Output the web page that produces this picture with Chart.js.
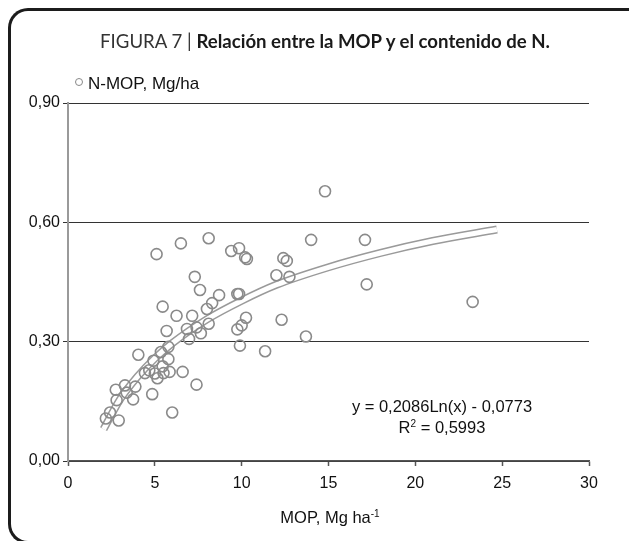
<!DOCTYPE html>
<html>
<head>
<meta charset="utf-8">
<script src="https://cdn.jsdelivr.net/npm/chart.js@4.4.1/dist/chart.umd.min.js"></script>
<style>
    html, body { margin: 0; padding: 0; background: #fff; overflow: hidden; }
    #wrap { position: relative; width: 629px; height: 541px; overflow: hidden; }
    #frame {
        position: absolute; left: 8px; top: 8px; width: 640px; height: 530px;
        border: 3px solid #1c1c1c; border-right: none; border-radius: 20px 0 0 20px;
    }
    canvas { position: absolute; left: 0; top: 0; }
    .txt { position: absolute; white-space: nowrap; color: #111; font-family: "Liberation Sans", Arial, sans-serif; }
    #title { left: 0; width: 650px; top: 30px; text-align: center; font-family: Lato, "Open Sans", sans-serif; font-size: 18.6px; color: #333; }
    #title b { color: #1a1a1a; }
    #legend { left: 75px; top: 74px; font-size: 17px; }
    #legend span { display: inline-block; width: 6px; height: 6px; border: 1.3px solid #888; border-radius: 50%; margin-right: 5px; vertical-align: 3px; }
    #eq { left: 342px; width: 200px; top: 396px; text-align: center; font-size: 16.5px; line-height: 21px; }
    #xtitle { left: 230px; width: 200px; top: 508px; text-align: center; font-size: 16.5px; }
    sup { font-size: 10px; vertical-align: 6px; line-height: 0; }
</style>
</head>
<body>
<div id="wrap">
    <div id="frame"></div>
    <canvas id="chart" width="629" height="541"></canvas>
    <div class="txt" id="title">FIGURA 7 | <b>Relación entre la MOP y el contenido de N.</b></div>
    <div class="txt" id="legend"><span></span>N-MOP, Mg/ha</div>
    <div class="txt" id="eq">y = 0,2086Ln(x) - 0,0773<br>R<sup>2</sup> = 0,5993</div>
    <div class="txt" id="xtitle">MOP, Mg ha<sup>-1</sup></div>
</div>
<script>
// MOP (Mg/ha) and N-MOP (Mg/ha)
const mopValues = [
    5.1, 6.5, 8.1, 9.4, 9.85, 10.2, 10.3, 12.4, 12.6, 14.0, 14.8, 17.1, 17.2, 23.3,
    7.3, 7.6, 8.7, 9.75, 9.85, 8.3, 8.0, 12.0, 12.75, 5.45, 6.25, 7.15, 10.25,
    12.3, 6.85, 7.4, 8.1, 7.65, 6.97, 5.68, 9.75, 10.0, 9.9, 11.35, 13.7,
    5.78, 5.35, 4.05, 4.92, 5.78, 5.45, 4.43, 4.68, 5.0, 5.15, 5.5, 5.85, 6.6,
    7.4, 4.85, 6.0, 2.75, 2.8, 3.38, 3.88, 3.75, 3.28, 2.42, 2.18, 2.92
];
const nValues = [
    0.52, 0.547, 0.56, 0.528, 0.535, 0.512, 0.508, 0.51, 0.503, 0.556, 0.678, 0.556, 0.444, 0.40,
    0.463, 0.43, 0.417, 0.42, 0.42, 0.397, 0.382, 0.467, 0.463, 0.388, 0.365, 0.365, 0.36,
    0.355, 0.332, 0.336, 0.345, 0.321, 0.307, 0.327, 0.331, 0.341, 0.29, 0.276, 0.313,
    0.287, 0.274, 0.267, 0.252, 0.256, 0.238, 0.221, 0.228, 0.22, 0.208, 0.221, 0.224, 0.224,
    0.192, 0.168, 0.122, 0.179, 0.153, 0.172, 0.187, 0.155, 0.19, 0.122, 0.107, 0.102
];

// Logarithmic trend line as drawn
const trendX = [2.05, 3, 4, 5, 6, 8, 10, 12, 15, 18, 21, 24.7];
const trendY = [0.08, 0.155, 0.212, 0.258, 0.296, 0.356, 0.403, 0.443, 0.487, 0.523, 0.553, 0.582];

// Tick labels
const xTickLabels = ['0', '5', '10', '15', '20', '25', '30'];
const yTickLabels = ['0,00', '0,30', '0,60', '0,90'];

const points = mopValues.map((x, i) => ({ x: x, y: nValues[i] }));
const trend = trendX.map((x, i) => ({ x: x, y: trendY[i] }));

const tickFont = { family: '"Liberation Sans", Arial, sans-serif', size: 16 };

new Chart(document.getElementById('chart'), {
    type: 'scatter',
    data: {
        datasets: [
            {
                label: 'N-MOP, Mg/ha',
                data: points,
                pointRadius: 5.5,
                pointBorderWidth: 1.6,
                pointBorderColor: '#8a8a8a',
                pointBackgroundColor: 'rgba(0,0,0,0)',
                order: 0
            },
            {
                data: trend,
                showLine: true,
                pointRadius: 0,
                borderColor: '#ffffff',
                borderWidth: 5,
                cubicInterpolationMode: 'monotone',
                order: 1
            },
            {
                data: trend,
                showLine: true,
                pointRadius: 0,
                borderColor: '#9a9a9a',
                borderWidth: 8,
                cubicInterpolationMode: 'monotone',
                order: 2
            }
        ]
    },
    options: {
        responsive: false,
        animation: false,
        layout: { padding: { left: 0, right: 40, top: 103, bottom: 0 } },
        plugins: {
            legend: { display: false },
            tooltip: { enabled: false }
        },
        scales: {
            x: {
                type: 'linear',
                min: 0,
                max: 30,
                afterFit: (scale) => { scale.height = 80; },
                ticks: {
                    stepSize: 5,
                    color: '#111',
                    font: tickFont,
                    padding: 8,
                    maxRotation: 0,
                    callback: (v) => xTickLabels[Math.round(v / 5)]
                },
                grid: {
                    drawOnChartArea: false,
                    drawTicks: true,
                    tickLength: 5,
                    tickColor: '#555',
                    tickWidth: 1.5
                },
                border: { color: '#555', width: 1.5 }
            },
            y: {
                type: 'linear',
                min: 0,
                max: 0.9,
                afterFit: (scale) => { scale.width = 68; },
                ticks: {
                    stepSize: 0.3,
                    color: '#111',
                    font: tickFont,
                    padding: 3,
                    callback: (v) => yTickLabels[Math.round(v / 0.3)]
                },
                grid: {
                    color: '#333',
                    lineWidth: 1,
                    tickLength: 5,
                    tickColor: '#333'
                },
                border: { color: '#9a9a9a', width: 2 }
            }
        }
    }
});
</script>
</body>
</html>
